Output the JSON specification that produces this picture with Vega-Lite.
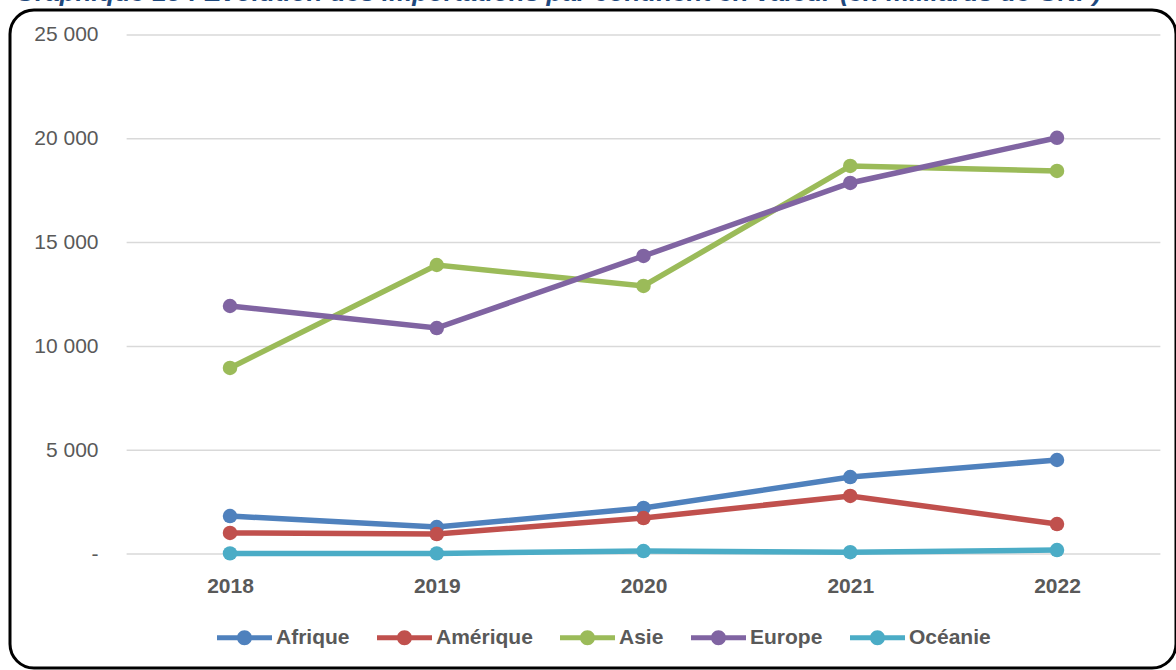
{
  "$schema": "https://vega.github.io/schema/vega-lite/v6.json",
  "autosize": "none",
  "padding": {"left": 10, "top": 10, "right": 0, "bottom": 2},
  "width": 1166,
  "height": 658,
  "background": "white",
  "config": {
    "view": {"stroke": "#000000", "strokeWidth": 3, "cornerRadius": 24},
    "font": "Liberation Sans"
  },
  "title": {
    "text": "Graphique 13 : Evolution des importations par continent en valeur (en milliards de GNF)",
    "anchor": "start",
    "dx": 5,
    "offset": -17,
    "baseline": "alphabetic",
    "font": "Liberation Sans",
    "fontSize": 26,
    "fontWeight": "bold",
    "fontStyle": "italic",
    "color": "#1F497D"
  },
  "datasets": {
    "imports": [
      {"continent": "Afrique", "annee": 2018, "valeur": 1830},
      {"continent": "Afrique", "annee": 2019, "valeur": 1300},
      {"continent": "Afrique", "annee": 2020, "valeur": 2216},
      {"continent": "Afrique", "annee": 2021, "valeur": 3709},
      {"continent": "Afrique", "annee": 2022, "valeur": 4528},
      {"continent": "Amérique", "annee": 2018, "valeur": 1012},
      {"continent": "Amérique", "annee": 2019, "valeur": 963},
      {"continent": "Amérique", "annee": 2020, "valeur": 1734},
      {"continent": "Amérique", "annee": 2021, "valeur": 2794},
      {"continent": "Amérique", "annee": 2022, "valeur": 1445},
      {"continent": "Asie", "annee": 2018, "valeur": 8960},
      {"continent": "Asie", "annee": 2019, "valeur": 13921},
      {"continent": "Asie", "annee": 2020, "valeur": 12910},
      {"continent": "Asie", "annee": 2021, "valeur": 18690},
      {"continent": "Asie", "annee": 2022, "valeur": 18449},
      {"continent": "Europe", "annee": 2018, "valeur": 11946},
      {"continent": "Europe", "annee": 2019, "valeur": 10886},
      {"continent": "Europe", "annee": 2020, "valeur": 14355},
      {"continent": "Europe", "annee": 2021, "valeur": 17871},
      {"continent": "Europe", "annee": 2022, "valeur": 20050},
      {"continent": "Océanie", "annee": 2018, "valeur": 30},
      {"continent": "Océanie", "annee": 2019, "valeur": 30},
      {"continent": "Océanie", "annee": 2020, "valeur": 140},
      {"continent": "Océanie", "annee": 2021, "valeur": 90},
      {"continent": "Océanie", "annee": 2022, "valeur": 190}
    ],
    "grille": [
      {"v": 0}, {"v": 5000}, {"v": 10000}, {"v": 15000}, {"v": 20000}, {"v": 25000}
    ]
  },
  "layer": [
    {
      "data": {"name": "grille"},
      "mark": {"type": "rule", "color": "#D9D9D9", "strokeWidth": 1.5},
      "encoding": {
        "x": {"datum": 2017.5, "type": "quantitative"},
        "x2": {"datum": 2022.5},
        "y": {"field": "v", "type": "quantitative"}
      }
    },
    {
      "data": {"name": "imports"},
      "mark": {"type": "line", "strokeWidth": 5.5, "point": {"filled": true, "size": 210, "opacity": 1}},
      "encoding": {
        "x": {
          "field": "annee", "type": "quantitative",
          "scale": {"domain": [2016.93591, 2022.57557], "nice": false, "zero": false},
          "axis": {
            "values": [2018, 2019, 2020, 2021, 2022],
            "format": "d",
            "offset": -114,
            "domain": false,
            "ticks": false,
            "grid": false,
            "title": null,
            "labelPadding": 21,
            "labelFont": "Liberation Sans",
            "labelFontSize": 21,
            "labelFontWeight": "bold",
            "labelColor": "#595959"
          }
        },
        "y": {
          "field": "valeur", "type": "quantitative",
          "scale": {"domain": [-5491.3, 26204.2], "nice": false, "zero": false},
          "axis": {
            "values": [0, 5000, 10000, 15000, 20000, 25000],
            "labelExpr": "datum.value == 0 ? '-' : replace(format(datum.value, ','), ',', ' ')",
            "offset": -118,
            "domain": false,
            "ticks": false,
            "grid": false,
            "title": null,
            "labelPadding": 30,
            "labelFont": "Liberation Sans",
            "labelFontSize": 21,
            "labelColor": "#595959"
          }
        },
        "color": {
          "field": "continent", "type": "nominal",
          "scale": {
            "domain": ["Afrique", "Amérique", "Asie", "Europe", "Océanie"],
            "range": ["#4F81BD", "#C0504D", "#9BBB59", "#8064A2", "#4BACC6"]
          },
          "legend": {
            "title": null,
            "orient": "none",
            "direction": "horizontal",
            "legendX": 207,
            "legendY": 600,
            "columnPadding": 27,
            "labelOffset": 4,
            "symbolType": "M-1,-0.09 L1,-0.09 L1,0.09 L-1,0.09 Z M0.273,0 A0.273,0.273 0 1,1 -0.273,0 A0.273,0.273 0 1,1 0.273,0 Z",
            "symbolSize": 3025,
            "symbolStrokeWidth": 0,
            "labelFont": "Liberation Sans",
            "labelFontSize": 21,
            "labelFontWeight": "bold",
            "labelColor": "#595959",
            "encode": {
              "symbols": {"update": {"fill": {"field": "value", "scale": "color"}, "opacity": {"value": 1}}}
            }
          }
        }
      }
    }
  ]
}
